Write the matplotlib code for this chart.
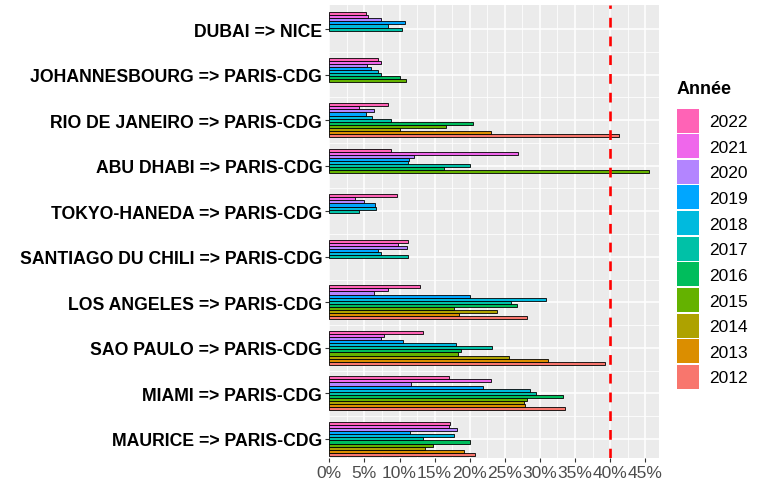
import numpy as np
import matplotlib.pyplot as plt
from matplotlib.patches import Patch
from matplotlib.ticker import FuncFormatter, MultipleLocator

plt.rcParams['font.family'] = ['Liberation Sans', 'DejaVu Sans']

nan = np.nan

# routes, bottom to top
routes = ["MAURICE => PARIS-CDG", "MIAMI => PARIS-CDG", "SAO PAULO => PARIS-CDG",
          "LOS ANGELES => PARIS-CDG", "SANTIAGO DU CHILI => PARIS-CDG",
          "TOKYO-HANEDA => PARIS-CDG", "ABU DHABI => PARIS-CDG",
          "RIO DE JANEIRO => PARIS-CDG", "JOHANNESBOURG => PARIS-CDG", "DUBAI => NICE"]
years = [2012, 2013, 2014, 2015, 2016, 2017, 2018, 2019, 2020, 2021, 2022]
colors = ["#F8766D", "#DB8E00", "#AEA200", "#64B200", "#00BD5C", "#00C1A7",
          "#00BADE", "#00A6FF", "#B385FF", "#EF67EB", "#FF63B6"]

# taux (%) par route, 2012 -> 2022, nan = pas de donnees
maurice = [20.7, 19.2, 13.6, 14.7, 20.0, 13.4, 17.7, 11.5, 18.2, 17.1, 17.2]
miami = [33.5, 27.9, 27.7, 28.2, 33.3, 29.5, 28.6, 21.9, 11.7, 23.0, 17.1]
sao_paulo = [39.2, 31.1, 25.6, 18.4, 18.8, 23.2, 18.1, 10.5, 7.3, 7.8, 13.3]
los_angeles = [28.2, 18.5, 23.9, 17.7, 26.8, 25.9, 30.8, 20.0, 6.3, 8.3, 12.9]
santiago = [nan, nan, nan, nan, nan, 11.2, 7.4, 6.9, 11.1, 9.8, 11.2]
tokyo = [nan, nan, nan, nan, nan, 4.3, 6.7, 6.5, 5.0, 3.6, 9.7]
abu_dhabi = [nan, nan, nan, 45.5, 16.4, 20.0, 11.2, 11.3, 12.0, 26.9, 8.8]
rio = [41.3, 23.1, 10.0, 16.6, 20.4, 8.8, 6.1, 5.2, 6.3, 4.2, 8.3]
johannesbourg = [nan, nan, nan, 10.9, 10.1, 7.4, 6.9, 6.0, 5.4, 7.3, 6.9]
dubai = [nan, nan, nan, nan, nan, 10.4, 8.4, 10.8, 7.3, 5.5, 5.2]

values = [maurice, miami, sao_paulo, los_angeles, santiago, tokyo,
          abu_dhabi, rio, johannesbourg, dubai]
threshold = 40

fig = plt.figure(figsize=(7.58, 4.85), dpi=100)
ax = fig.add_axes([329.3 / 758, 26 / 485, 330 / 758, 453 / 485])
ax.set_facecolor('#EBEBEB')

group_w = 0.75
bar_h = group_w / len(years)

# dodge: present years fill slots from the top (2022 first)
ys = {y: [] for y in years}
ws = {y: [] for y in years}
for i, row in enumerate(values):
    present = [j for j in range(len(years)) if not np.isnan(row[j])][::-1]
    for k, j in enumerate(present):
        ys[years[j]].append(i + group_w / 2 - (k + 0.5) * bar_h)
        ws[years[j]].append(row[j])

for j, yr in enumerate(years):
    ax.barh(ys[yr], ws[yr], height=bar_h, color=colors[j], edgecolor='black',
            linewidth=0.6, zorder=3)

ax.axvline(threshold, color='red', linewidth=1.9, linestyle=(0, (3.7, 3.4)), zorder=4)

ax.set_xlim(0, 47)
ax.set_ylim(-0.42, 9.53)
ax.xaxis.set_major_locator(MultipleLocator(5))
ax.xaxis.set_minor_locator(MultipleLocator(2.5))
ax.xaxis.set_major_formatter(FuncFormatter(lambda v, p: f"{int(v)}%"))
ax.set_yticks(range(len(routes)))
ax.set_yticklabels(routes, fontsize=12.7, fontweight='bold', color='black')
ax.set_yticks(np.arange(0.5, len(routes) - 1, 1), minor=True)

ax.grid(which='major', color='white', linewidth=1.1, zorder=0)
ax.grid(which='minor', color='white', linewidth=0.55, zorder=0)
ax.set_axisbelow(True)
for s in ax.spines.values():
    s.set_visible(False)
ax.tick_params(axis='both', which='major', length=3, width=0.8, color='#333333')
ax.tick_params(axis='both', which='minor', length=0)
ax.tick_params(axis='x', labelsize=12.5, labelcolor='#4D4D4D', pad=2)
ax.tick_params(axis='y', pad=2)

handles = [Patch(facecolor=colors[j], edgecolor='none', label=str(years[j]))
           for j in range(len(years) - 1, -1, -1)]
leg = fig.legend(handles=handles, title='Année', loc='upper left',
                 bbox_to_anchor=(677 / 758, 1 - 81.5 / 485), frameon=False,
                 fontsize=12.5, title_fontproperties={'weight': 'bold', 'size': 13},
                 handlelength=1.29, handleheight=1.74, labelspacing=0.1,
                 handletextpad=0.55, borderpad=0, borderaxespad=0, alignment='left')
leg._legend_box.sep = 8

fig.savefig('out.png', dpi=100)
